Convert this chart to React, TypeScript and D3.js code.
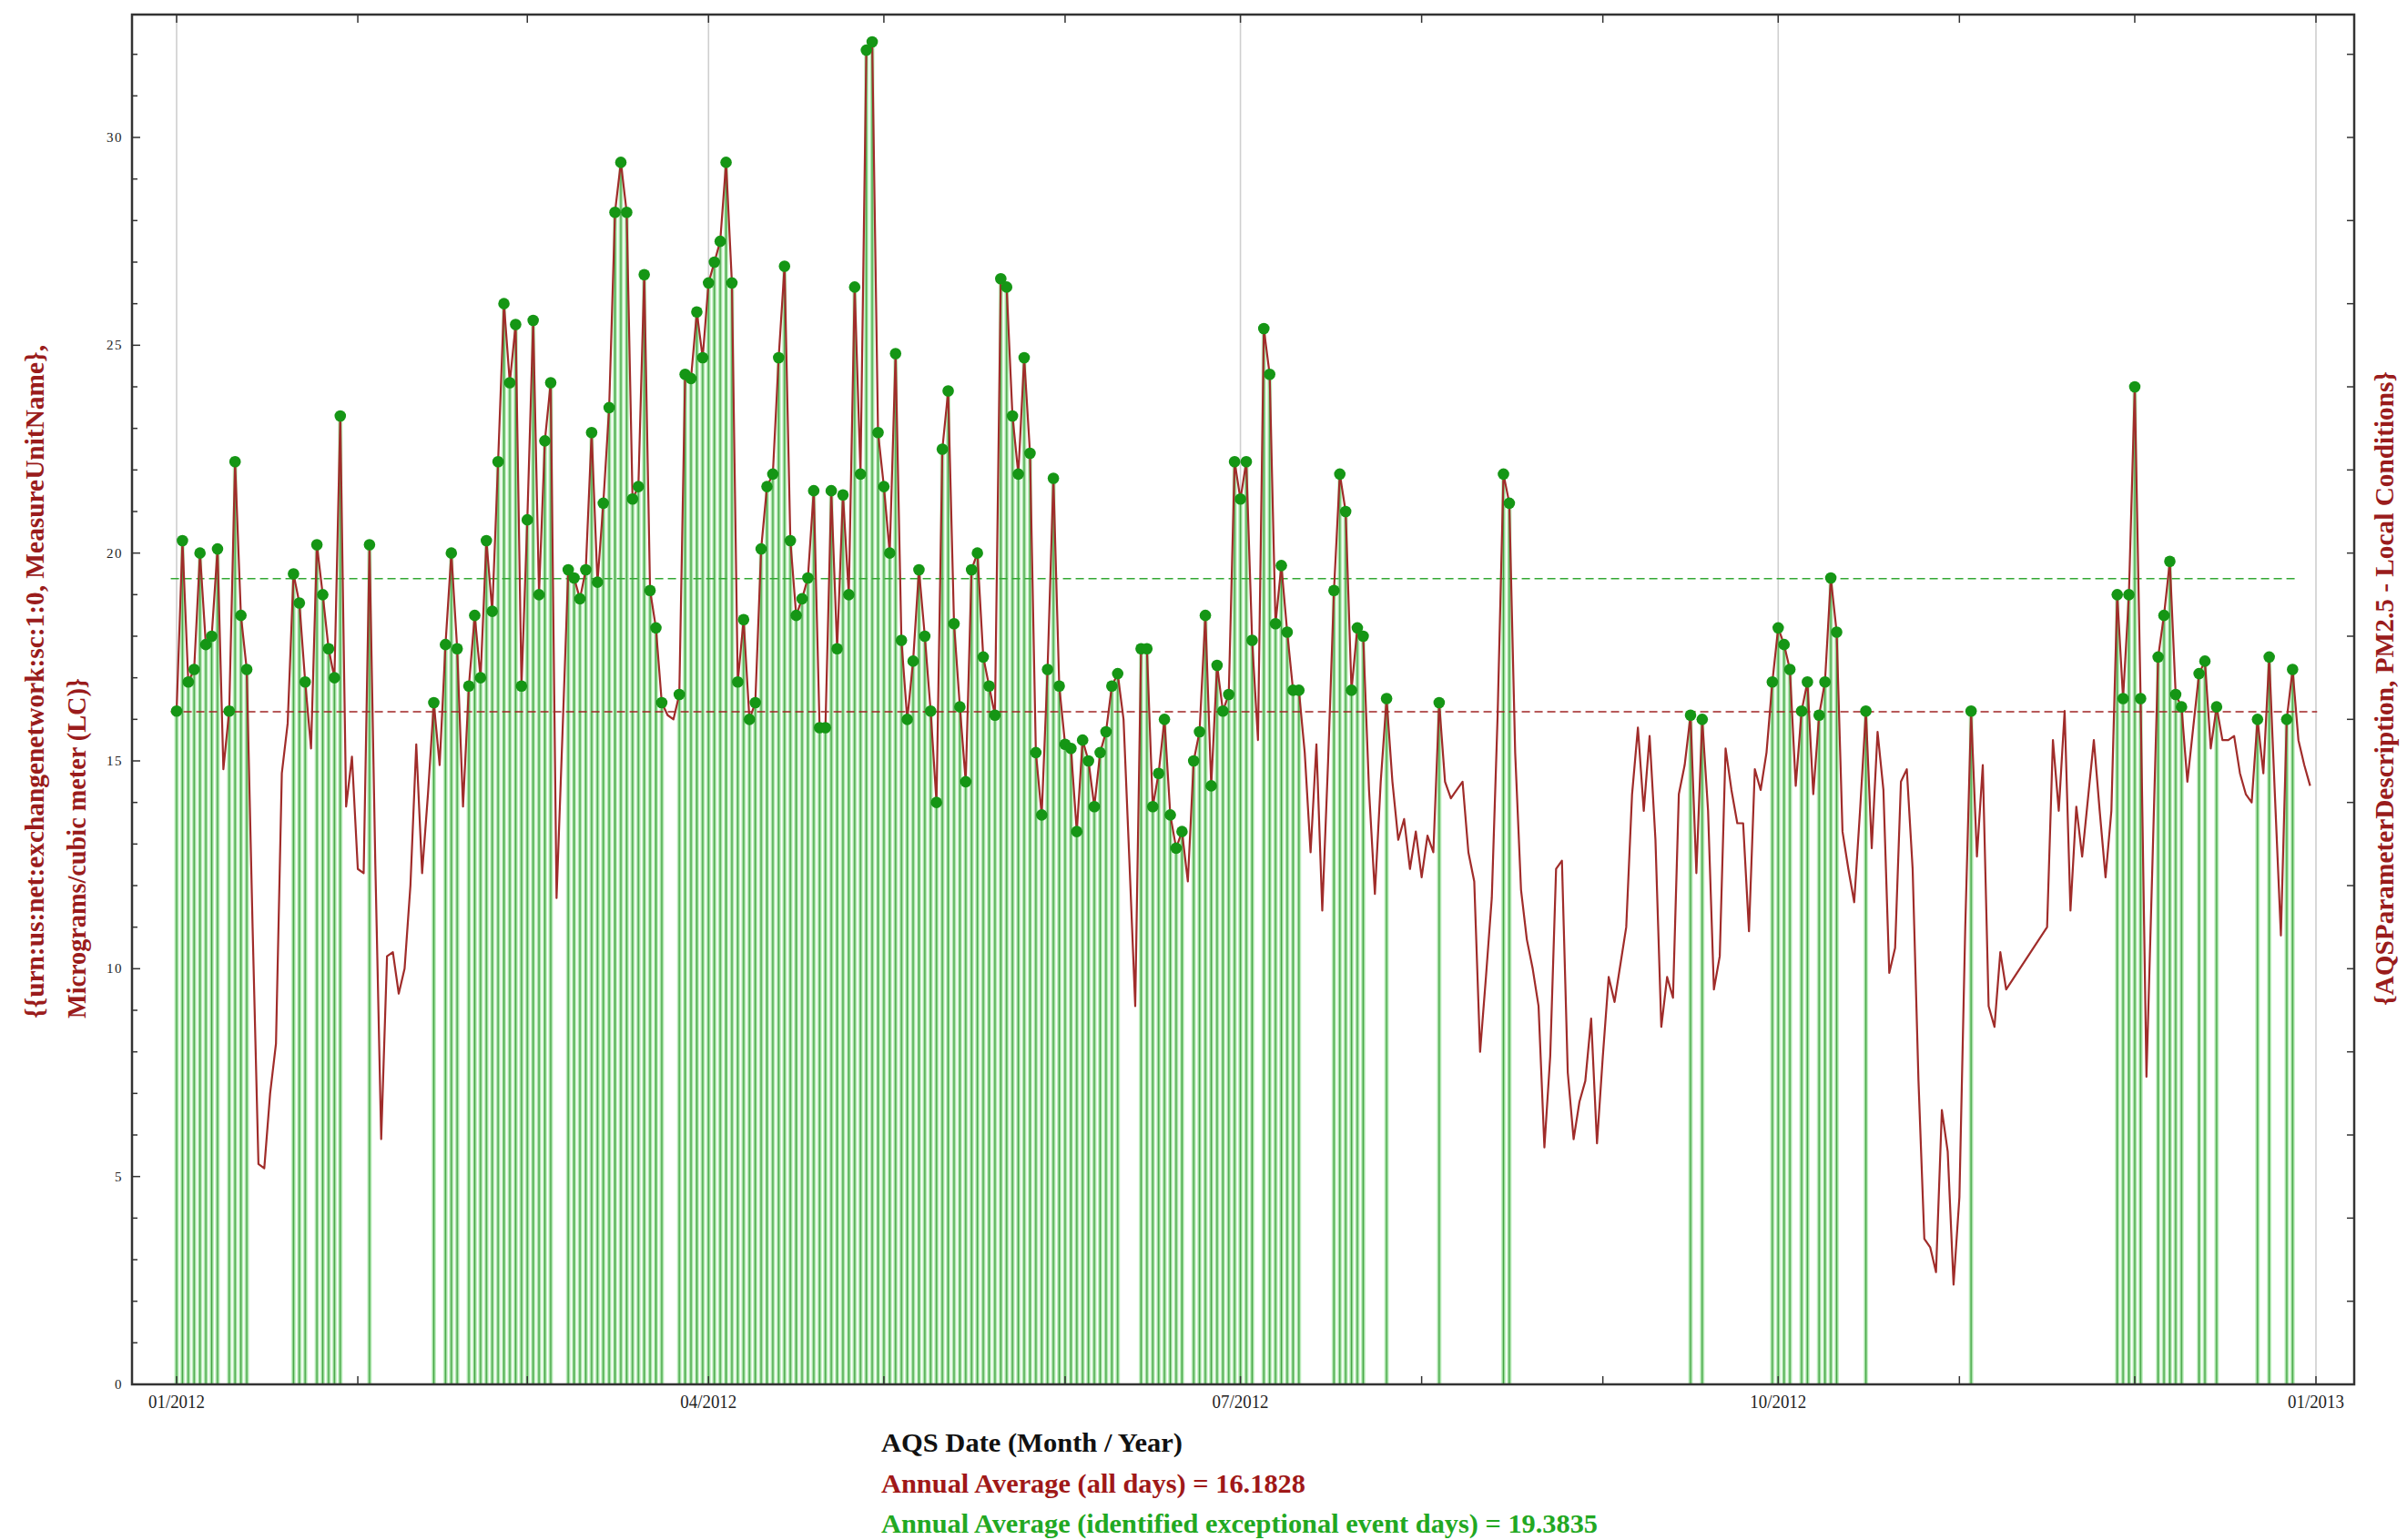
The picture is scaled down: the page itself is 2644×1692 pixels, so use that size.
import React from 'react';
import * as d3 from 'd3';

// Daily PM2.5 (µg/m³), 2012-01-01 .. 2012-12-31 (null = missing day)
const pm25Values: (number | null)[] = [
  16.2, 20.3, 16.9, 17.2, 20.0, 17.8, 18.0, 20.1, 14.8, 16.2,
  22.2, 18.5, 17.2, 11.0, 5.3, 5.2, 7.0, 8.2, 14.7, 15.9,
  19.5, 18.8, 16.9, 15.3, 20.2, 19.0, 17.7, 17.0, 23.3, 13.9,
  15.1, 12.4, 12.3, 20.2, 12.5, 5.9, 10.3, 10.4, 9.4, 10.0,
  12.0, 15.4, 12.3, 14.2, 16.4, 14.9, 17.8, 20.0, 17.7, 13.9,
  16.8, 18.5, 17.0, 20.3, 18.6, 22.2, 26.0, 24.1, 25.5, 16.8,
  20.8, 25.6, 19.0, 22.7, 24.1, 11.7, 15.6, 19.6, 19.4, 18.9,
  19.6, 22.9, 19.3, 21.2, 23.5, 28.2, 29.4, 28.2, 21.3, 21.6,
  26.7, 19.1, 18.2, 16.4, 16.1, 16.0, 16.6, 24.3, 24.2, 25.8,
  24.7, 26.5, 27.0, 27.5, 29.4, 26.5, 16.9, 18.4, 16.0, 16.4,
  20.1, 21.6, 21.9, 24.7, 26.9, 20.3, 18.5, 18.9, 19.4, 21.5,
  15.8, 15.8, 21.5, 17.7, 21.4, 19.0, 26.4, 21.9, 32.1, 32.3,
  22.9, 21.6, 20.0, 24.8, 17.9, 16.0, 17.4, 19.6, 18.0, 16.2,
  14.0, 22.5, 23.9, 18.3, 16.3, 14.5, 19.6, 20.0, 17.5, 16.8,
  16.1, 26.6, 26.4, 23.3, 21.9, 24.7, 22.4, 15.2, 13.7, 17.2,
  21.8, 16.8, 15.4, 15.3, 13.3, 15.5, 15.0, 13.9, 15.2, 15.7,
  16.8, 17.1, 16.0, 12.6, 9.1, 17.7, 17.7, 13.9, 14.7, 16.0,
  13.7, 12.9, 13.3, 12.1, 15.0, 15.7, 18.5, 14.4, 17.3, 16.2,
  16.6, 22.2, 21.3, 22.2, 17.9, 15.5, 25.4, 24.3, 18.3, 19.7,
  18.1, 16.7, 16.7, 15.2, 12.8, 15.4, 11.4, 15.0, 19.1, 21.9,
  21.0, 16.7, 18.2, 18.0, 14.3, 11.8, 14.5, 16.5, 14.5, 13.1,
  13.6, 12.4, 13.3, 12.2, 13.2, 12.8, 16.4, 14.5, 14.1, 14.3,
  14.5, 12.8, 12.1, 8.0, 9.8, 11.7, 16.1, 21.9, 21.2, 15.2,
  11.9, 10.7, 10.0, 9.1, 5.7, 7.9, 12.4, 12.6, 7.5, 5.9,
  6.8, 7.3, 8.8, 5.8, 7.9, 9.8, 9.2, 10.1, 11.0, 14.2,
  15.8, 13.8, 15.6, 13.1, 8.6, 9.8, 9.3, 14.2, 14.9, 16.1,
  12.3, 16.0, 13.8, 9.5, 10.3, 15.3, 14.3, 13.5, 13.5, 10.9,
  14.8, 14.3, 15.2, 16.9, 18.2, 17.8, 17.2, 14.4, 16.2, 16.9,
  14.2, 16.1, 16.9, 19.4, 18.1, 13.3, 12.4, 11.6, 13.8, 16.2,
  12.9, 15.7, 14.3, 9.9, 10.5, 14.5, 14.8, 12.4, 7.3, 3.5,
  3.3, 2.7, 6.6, 5.6, 2.4, 4.5, 11.0, 16.2, 12.7, 14.9,
  9.1, 8.6, 10.4, 9.5, null, null, null, null, null, null,
  11.0, 15.5, 13.8, 16.2, 11.4, 13.9, 12.7, 14.1, 15.5, 13.8,
  12.2, 13.8, 19.0, 16.5, 19.0, 24.0, 16.5, 7.4, 12.4, 17.5,
  18.5, 19.8, 16.6, 16.3, 14.5, 15.8, 17.1, 17.4, 15.3, 16.3,
  15.5, 15.5, 15.6, 14.7, 14.2, 14.0, 16.0, 14.7, 17.5, 14.1,
  10.8, 16.0, 17.2, 15.5, 14.9, 14.4,
];

// Day-of-year indices (0 = Jan 1) flagged as exceptional event days
const exceptionalDays: number[] = [
  0, 1, 2, 3, 4, 5, 6, 7, 9, 10, 11, 12, 20, 21, 22, 24, 25, 26, 27, 28, 33,
  44, 46, 47, 48, 50, 51, 52, 53, 54, 55, 56, 57, 58, 59, 60, 61, 62, 63, 64,
  67, 68, 69, 70, 71, 72, 73, 74, 75, 76, 77, 78, 79, 80, 81, 82, 83,
  86, 87, 88, 89, 90, 91, 92, 93, 94, 95, 96, 97, 98, 99, 100, 101, 102, 103, 104,
  105, 106, 107, 108, 109, 110, 111, 112, 113, 114, 115, 116, 117, 118, 119, 120,
  121, 122, 123, 124, 125, 126, 127, 128, 129, 130, 131, 132, 133, 134, 135, 136,
  137, 138, 139, 140, 141, 142, 143, 144, 145, 146, 147, 148, 149, 150, 151, 152,
  153, 154, 155, 156, 157, 158, 159, 160, 161,
  165, 166, 167, 168, 169, 170, 171, 172, 174, 175, 176, 177, 178, 179, 180, 181,
  182, 183, 184, 186, 187, 188, 189, 190, 191, 192, 198, 199, 200, 201, 202, 203,
  207, 216, 227, 228, 259, 261, 273, 274, 275, 276, 278, 279, 281, 282, 283, 284,
  289, 307, 332, 333, 334, 335, 336, 339, 340, 341, 342, 343, 346, 347, 349, 356,
  358, 361, 362,
];

const annualAverageAll = 16.1828;
const annualAverageExceptional = 19.3835;

const yTickValues = [0, 5, 10, 15, 20, 25, 30];
const yMinorTicks = [0, 1, 2, 3, 4, 5, 6, 7, 8, 9, 10, 11, 12, 13, 14, 15, 16, 17, 18, 19, 20, 21, 22, 23, 24, 25, 26, 27, 28, 29, 30, 31, 32];
const yRightTicks = [2, 4, 6, 8, 10, 12, 14, 16, 18, 20, 22, 24, 26, 28, 30, 32];
const xTickDates = ['2012-01-01', '2012-04-01', '2012-07-01', '2012-10-01', '2013-01-01'];
const xTickLabels = ['01/2012', '04/2012', '07/2012', '10/2012', '01/2013'];

const leftTitleLines = [
  '{{urn:us:net:exchangenetwork:sc:1:0, MeasureUnitName},',
  'Micrograms/cubic meter (LC)}',
];
const rightTitle = '{AQSParameterDescription, PM2.5 - Local Conditions}';
const xTitle = 'AQS Date (Month / Year)';
const avgAllLabel = `Annual Average (all days) = ${annualAverageAll}`;
const avgExLabel = `Annual Average (identified exceptional event days) = ${annualAverageExceptional}`;

const SERIF = '"Liberation Serif", "Times New Roman", serif';

export default function App() {
  const W = 2644;
  const H = 1692;
  const frame = { left: 145, right: 2586, top: 16, bottom: 1521 };
  const start = new Date(Date.UTC(2012, 0, 1));
  const end = new Date(Date.UTC(2013, 0, 1));
  const x = d3.scaleUtc().domain([start, end]).range([194, 2544]);
  const y = d3.scaleLinear().domain([0, 30]).range([1521, 151]);
  const dayDate = (i: number) => new Date(Date.UTC(2012, 0, 1) + i * 86400000);

  const points = pm25Values
    .map((v, i) => ({ i, v, date: dayDate(i) }))
    .filter((p) => p.v !== null) as { i: number; v: number; date: Date }[];
  const exSet = new Set(exceptionalDays);
  const exPoints = points.filter((p) => exSet.has(p.i));

  const line = d3
    .line<{ date: Date; v: number }>()
    .x((p) => x(p.date))
    .y((p) => y(p.v));

  const months = d3.utcMonth.range(start, new Date(Date.UTC(2013, 0, 2)));
  const gridDates = xTickDates.map((s) => new Date(s + 'T00:00:00Z'));

  const tickColor = '#333';
  const redDashEnd = x(dayDate(366.2));
  const greenDashEnd = x(dayDate(362.5));
  const dashStart = x(dayDate(-1));

  return (
    <svg
      width={W}
      height={H}
      viewBox={`0 0 ${W} ${H}`}
      style={{ position: 'absolute', left: 0, top: 0, background: '#fff' }}
    >
      <rect x={0} y={0} width={W} height={H} fill="#fff" />
      {gridDates.map((d, k) => (
        <line key={'g' + k} x1={x(d)} x2={x(d)} y1={frame.top} y2={frame.bottom} stroke="#cfcfcf" strokeWidth={1.6} />
      ))}
      <g>
        {exPoints.map((p) => (
          <g key={'s' + p.i}>
            <line x1={x(p.date)} x2={x(p.date)} y1={y(0)} y2={y(p.v)} stroke="#c4efc4" strokeWidth={5} />
            <line x1={x(p.date)} x2={x(p.date)} y1={y(0)} y2={y(p.v)} stroke="#90d890" strokeWidth={2.8} />
            <line x1={x(p.date)} x2={x(p.date)} y1={y(0)} y2={y(p.v)} stroke="#44a044" strokeWidth={1} />
          </g>
        ))}
      </g>
      <line x1={dashStart} x2={redDashEnd} y1={y(annualAverageAll)} y2={y(annualAverageAll)} stroke="#a02424" strokeWidth={1.6} strokeDasharray="9 5" />
      <line x1={dashStart} x2={greenDashEnd} y1={y(annualAverageExceptional)} y2={y(annualAverageExceptional)} stroke="#33a833" strokeWidth={1.6} strokeDasharray="9 5" />
      <path d={line(points) || ''} fill="none" stroke="#a02c2a" strokeWidth={2.2} strokeLinejoin="round" />
      {exPoints.map((p) => (
        <circle key={'c' + p.i} cx={x(p.date)} cy={y(p.v)} r={6.3} fill="#159615" />
      ))}
      <rect x={frame.left} y={frame.top} width={frame.right - frame.left} height={frame.bottom - frame.top} fill="none" stroke={tickColor} strokeWidth={2.5} />
      {yMinorTicks.map((v) => (
        <line key={'yl' + v} x1={frame.left} x2={frame.left + (v % 5 === 0 ? 9 : 6)} y1={y(v)} y2={y(v)} stroke={tickColor} strokeWidth={1.5} />
      ))}
      {yRightTicks.map((v) => (
        <line key={'yr' + v} x1={frame.right} x2={frame.right - 8} y1={y(v)} y2={y(v)} stroke={tickColor} strokeWidth={1.5} />
      ))}
      {months.map((m, k) => (
        <g key={'m' + k}>
          <line x1={x(m)} x2={x(m)} y1={frame.bottom} y2={frame.bottom - 9} stroke={tickColor} strokeWidth={1.5} />
          <line x1={x(m)} x2={x(m)} y1={frame.top} y2={frame.top + 9} stroke={tickColor} strokeWidth={1.5} />
        </g>
      ))}
      {yTickValues.map((v) => (
        <text key={'yt' + v} x={135} y={y(v) + 5} textAnchor="end" fontFamily={SERIF} fontSize={15} letterSpacing={1.5} fill="#222">
          {v}
        </text>
      ))}
      {gridDates.map((d, k) => (
        <text key={'xt' + k} x={x(d)} y={1547} textAnchor="middle" fontFamily={SERIF} fontSize={20} fill="#222" textLength={62} lengthAdjust="spacingAndGlyphs">
          {xTickLabels[k]}
        </text>
      ))}
      <text transform="translate(48,1119) rotate(-90)" fontFamily={SERIF} fontWeight="bold" fontSize={29} fill="#9a1c1c" textLength={740} lengthAdjust="spacingAndGlyphs">
        {leftTitleLines[0]}
      </text>
      <text transform="translate(94,1119) rotate(-90)" fontFamily={SERIF} fontWeight="bold" fontSize={29} fill="#9a1c1c" textLength={374} lengthAdjust="spacingAndGlyphs">
        {leftTitleLines[1]}
      </text>
      <text transform="translate(2629,1105) rotate(-90)" fontFamily={SERIF} fontWeight="bold" fontSize={29} fill="#9a1c1c" textLength={697} lengthAdjust="spacingAndGlyphs">
        {rightTitle}
      </text>
      <text x={968} y={1595} fontFamily={SERIF} fontWeight="bold" fontSize={29} fill="#111" textLength={331} lengthAdjust="spacingAndGlyphs">
        {xTitle}
      </text>
      <text x={968} y={1640} fontFamily={SERIF} fontWeight="bold" fontSize={29} fill="#a01818" textLength={466} lengthAdjust="spacingAndGlyphs">
        {avgAllLabel}
      </text>
      <text x={968} y={1684} fontFamily={SERIF} fontWeight="bold" fontSize={29} fill="#22a822" textLength={787} lengthAdjust="spacingAndGlyphs">
        {avgExLabel}
      </text>
    </svg>
  );
}
